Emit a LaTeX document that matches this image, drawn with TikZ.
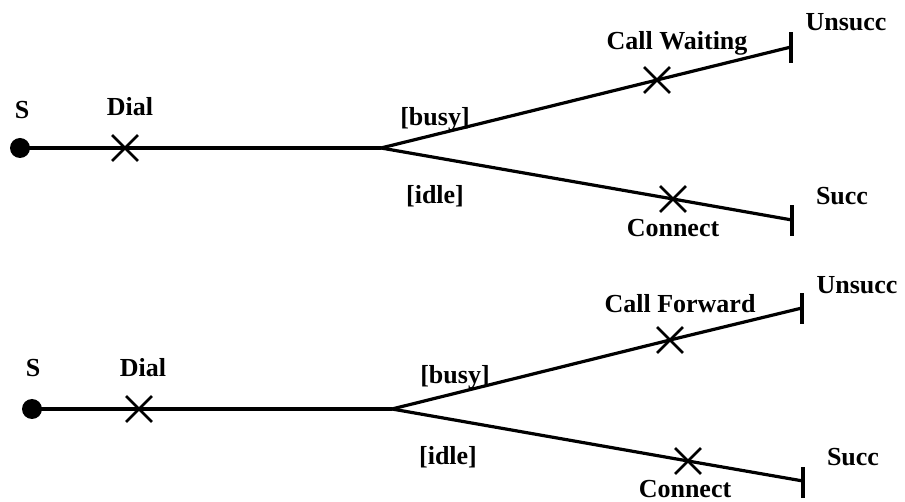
\documentclass[tikz,border=0pt]{standalone}
\usepackage{fontspec}
\setmainfont{Liberation Serif}
\usetikzlibrary{shapes.misc}
\begin{document}
\begin{tikzpicture}[x=1pt,y=-1pt,
  wire/.style={line width=3.2pt},
  xmark/.style={cross out,draw,line width=2.8pt,minimum size=23pt,inner sep=0pt},
  startdot/.style={circle,fill=black,minimum size=20pt,inner sep=0pt},
  endbar/.style={rectangle,fill=black,minimum width=3.2pt,minimum height=31pt,inner sep=0pt},
  lbl/.style={font=\fontsize{26}{28}\selectfont\bfseries,inner sep=0pt}]
\useasboundingbox (0,0) rectangle (905,502);

% ---------- top diagram ----------
\node[startdot] (s1) at (20,148) {};
\node[xmark] (dial1) at (125,148) {};
\coordinate (b1) at (381,148);
\node[xmark] (cw) at (657,80) {};
\node[endbar] (u1) at (791,48) {};
\node[xmark] (con1) at (673,199) {};
\node[endbar] (l1) at (792,221) {};

\draw[wire] (s1.center) -- (dial1.center) -- (b1);
\draw[wire] (b1) -- (cw.center) -- (791,47);
\draw[wire] (b1) -- (con1.center) -- (792,220);

\node[lbl] (s1l) at (22,110) {S};
\node[lbl] (dial1l) at (130,107) {Dial};
\node[lbl] (cwl) at (677,43) {Call Waiting};
\node[lbl] (un1) at (846,22) {Unsucc};
\node[lbl] (busy1) at (435,119) {[busy]};
\node[lbl] (idle1) at (435,196) {[idle]};
\node[lbl] (con1l) at (673,228) {Connect};
\node[lbl] (su1) at (842,196) {Succ};

% ---------- bottom diagram ----------
\node[startdot] (s2) at (32,409) {};
\node[xmark] (dial2) at (139,409) {};
\coordinate (b2) at (392,409);
\node[xmark] (cf) at (670,340) {};
\node[endbar] (u2) at (802,309) {};
\node[xmark] (con2) at (688,461) {};
\node[endbar] (l2) at (803,482) {};

\draw[wire] (s2.center) -- (dial2.center) -- (b2);
\draw[wire] (b2) -- (cf.center) -- (802,308);
\draw[wire] (b2) -- (con2.center) -- (803,481);

\node[lbl] (s2l) at (33,368) {S};
\node[lbl] (dial2l) at (143,368) {Dial};
\node[lbl] (cfl) at (680,304) {Call Forward};
\node[lbl] (un2) at (857,285) {Unsucc};
\node[lbl] (busy2) at (455,377) {[busy]};
\node[lbl] (idle2) at (448,457) {[idle]};
\node[lbl] (con2l) at (685,489) {Connect};
\node[lbl] (su2) at (853,457) {Succ};
\end{tikzpicture}
\end{document}
